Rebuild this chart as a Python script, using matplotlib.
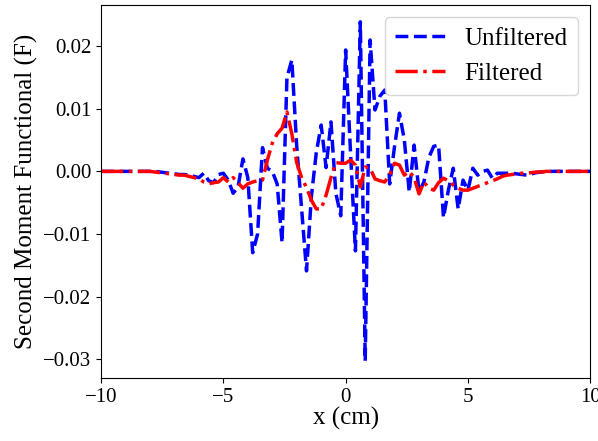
import numpy as np
import matplotlib
matplotlib.use("Agg")
import matplotlib.pyplot as plt

plt.rcParams['font.family'] = ['Liberation Serif', 'DejaVu Serif']
plt.rcParams['mathtext.fontset'] = 'stix'

x = [round(-10 + 0.2 * i, 1) for i in range(101)]

# Unfiltered second moment functional, x from -10 to 10 step 0.2
unfiltered_left = [0.0] * 11 + [  # -10.0 .. -8.0
    0.0, -0.0001, -0.0002, -0.0003, -0.0004, -0.0005, -0.0005, -0.0006, -0.0008,  # -7.8 .. -6.2 (9)
]
unfiltered_mid = [
    -0.0010, -0.0003, -0.0015, -0.0018, -0.0005, -0.0003, -0.0014, -0.0035,  # -6.0 .. -4.6
    -0.0025, 0.0020, -0.0010, -0.0130, -0.0100, 0.0038, 0.0005, 0.0000,      # -4.4 .. -3.0
    -0.0020, -0.0114, 0.0150, 0.0178, 0.0040, -0.0060, -0.0159, -0.0040,      # -2.8 .. -1.4
    0.0030, 0.0074, 0.0006, 0.0079, -0.0035, -0.0071, 0.0194, 0.0030,         # -1.2 .. 0.2
    -0.0127, 0.0239, -0.0303, 0.0210, 0.0098, 0.0120, 0.0130, -0.0020,        # 0.4 .. 1.8
    0.0040, 0.0093, 0.0050, -0.0033, 0.0042, -0.0033, -0.0017, 0.0022,        # 2.0 .. 3.4
    0.0040, 0.0042, -0.0074, -0.0030, 0.0005, -0.0060, -0.0014, -0.0030,      # 3.6 .. 5.0
    0.0005, -0.0006, 0.0000, 0.0002, -0.0011, -0.0003, -0.0003, -0.0003,      # 5.2 .. 6.6
    -0.0003, -0.0004, -0.0005, -0.0006, -0.0004, -0.0002, -0.0001,            # 6.8 .. 8.0
]
unfiltered_right = [0.0] * 10  # 8.2 .. 10.0
unfiltered = unfiltered_left + unfiltered_mid + unfiltered_right

filtered_left = [0.0] * 11 + [  # -10.0 .. -8.0
    -0.0001, -0.0002, -0.0003, -0.0004, -0.0005, -0.0006, -0.0006, -0.0008, -0.0010,  # -7.8 .. -6.2
]
filtered_mid = [
    -0.0012, -0.0017, -0.0020, -0.0018, -0.0017, -0.0010, -0.0017, -0.0010,  # -6.0 .. -4.6
    -0.0018, -0.0027, -0.0020, -0.0017, -0.0015, -0.0014, 0.0018, 0.0045,    # -4.4 .. -3.0
    0.0060, 0.0069, 0.0095, 0.0060, 0.0014, -0.0010, -0.0026, -0.0046,       # -2.8 .. -1.4
    -0.0060, -0.0060, -0.0038, -0.0010, 0.0014, 0.0013, 0.0013, 0.0018,      # -1.2 .. 0.2
    0.0010, -0.0025, 0.0007, 0.0005, -0.0012, -0.0015, -0.0017, -0.0005,     # 0.4 .. 1.8
    0.0013, 0.0010, -0.0006, 0.0000, -0.0010, -0.0036, -0.0017, -0.0027,     # 2.0 .. 3.4
    -0.0030, -0.0018, -0.0011, -0.0015, -0.0022, -0.0027, -0.0030, -0.0030,  # 3.6 .. 5.0
    -0.0027, -0.0024, -0.0021, -0.0018, -0.0015, -0.0012, -0.0008, -0.0006,  # 5.2 .. 6.6
    -0.0005, -0.0004, -0.0003, -0.0003, -0.0002, -0.0001, -0.0001,           # 6.8 .. 8.0
]
filtered_right = [0.0] * 10
filtered = filtered_left + filtered_mid + filtered_right

fig = plt.figure(figsize=(5.98, 4.41), dpi=100)
ax = fig.add_axes([0.169, 0.143, 0.818, 0.846])

ax.plot(x, unfiltered, color='blue', linestyle='--', linewidth=2.5, label='Unfiltered')
ax.plot(x, filtered, color='red', linestyle='-.', linewidth=2.5, label='Filtered')

ax.set_xlim(-10, 10)
ax.set_xticks([-10, -5, 0, 5, 10])
ax.set_yticks([-0.03, -0.02, -0.01, 0.0, 0.01, 0.02])
ax.tick_params(labelsize=15)
ax.set_xlabel('x (cm)', fontsize=18, labelpad=0)
ax.set_ylabel('Second Moment Functional (F)', fontsize=18, labelpad=4)
ax.legend(loc='upper right', fontsize=18)

fig.savefig('out.png', dpi=100)
